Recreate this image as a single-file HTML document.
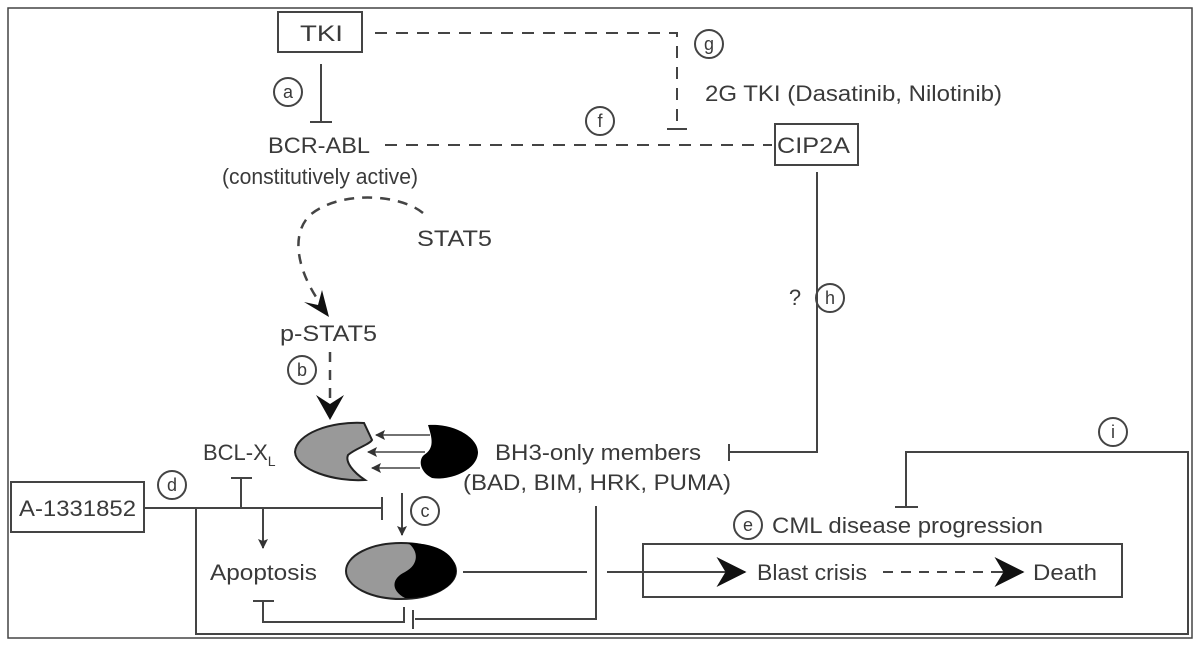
<!DOCTYPE html>
<html><head><meta charset="utf-8"><style>
html,body{margin:0;padding:0;background:#fff;}
svg{display:block;}
text{font-family:"Liberation Sans",sans-serif;fill:#3a3a3a;}
</style></head><body>
<svg width="1200" height="646" viewBox="0 0 1200 646" xmlns="http://www.w3.org/2000/svg">
<defs>
<marker id="ah" viewBox="0 0 10 10" refX="9" refY="5" markerWidth="10" markerHeight="10" markerUnits="userSpaceOnUse" orient="auto"><path d="M0,0 L10,5 L0,10 L2,5z" fill="#333"/></marker>
<marker id="big" viewBox="0 0 20 20" refX="19" refY="10" markerWidth="30" markerHeight="30" markerUnits="userSpaceOnUse" orient="auto"><path d="M0,0 L20,10 L0,20 L6,10z" fill="#111"/></marker>
</defs>
<rect x="8" y="8" width="1184" height="630" fill="#fff" stroke="#444" stroke-width="1.5"/>
<g stroke="#444" stroke-width="2" fill="none">
<rect x="278" y="12" width="84" height="40"/>
<line x1="321" y1="64" x2="321" y2="122"/><line x1="310" y1="122" x2="332" y2="122"/>
<path d="M375,33 H677 V129" stroke-dasharray="12,9"/><line x1="667" y1="129" x2="687" y2="129"/>
<line x1="385" y1="145" x2="772" y2="145" stroke-dasharray="12,9"/>
<rect x="775" y="124" width="83" height="41"/>
<path d="M817,172 V452 H729"/><line x1="729" y1="444" x2="729" y2="461"/>
<path d="M423,213 C400,194 340,190 310,215 C290,235 298,270 318,300" stroke-dasharray="10,8" stroke-width="2.5"/>
<line x1="330" y1="352" x2="330" y2="400" stroke-dasharray="10,8" stroke-width="2.5"/>
<line x1="144" y1="508" x2="382" y2="508"/><line x1="382" y1="497" x2="382" y2="520"/>
<line x1="241" y1="508" x2="241" y2="478"/><line x1="231" y1="478" x2="252" y2="478"/>
<line x1="263" y1="508" x2="263" y2="548" marker-end="url(#ah)"/>
<line x1="402" y1="493" x2="402" y2="535" marker-end="url(#ah)"/>
<path d="M196,508 V634 H1188 V452 H906 V507"/><line x1="895" y1="507" x2="918" y2="507"/>
<path d="M596,506 V619 H415"/><line x1="413" y1="610" x2="413" y2="629"/>
<path d="M404,607 V622 H263 V601"/><line x1="253" y1="601" x2="274" y2="601"/>
<line x1="463" y1="572" x2="587" y2="572"/>
<line x1="607" y1="572" x2="745" y2="572" marker-end="url(#big)"/>
<rect x="643" y="544" width="479" height="53"/>
<line x1="883" y1="572" x2="1005" y2="572" stroke-dasharray="10,8"/>
<line x1="995" y1="572" x2="1023" y2="572" marker-end="url(#big)"/>
<rect x="11" y="482" width="133" height="50"/>
<line x1="430" y1="435" x2="376" y2="435" stroke-width="1.5" marker-end="url(#ah)"/>
<line x1="425" y1="452" x2="368" y2="452" stroke-width="1.5" marker-end="url(#ah)"/>
<line x1="420" y1="468" x2="372" y2="468" stroke-width="1.5" marker-end="url(#ah)"/>
<circle cx="288" cy="92" r="14"/><circle cx="709" cy="44" r="14"/><circle cx="600" cy="121" r="14"/>
<circle cx="830" cy="298" r="14"/><circle cx="302" cy="370" r="14"/><circle cx="172" cy="485" r="14"/>
<circle cx="425" cy="511" r="14"/><circle cx="748" cy="525" r="14"/><circle cx="1113" cy="432" r="14"/>
</g>
<path d="M304,302 L329,317 L322,290 L318,305z" fill="#111"/>
<path d="M316,395 L330,420 L344,395 L330,404z" fill="#111"/>
<path d="M364,423 C330,421 296,434 295,452 C296,470 335,482 365,480 C353,472 345,462 348,455 C356,448 369,445 372,440 Z" fill="#999" stroke="#222" stroke-width="2"/>
<path d="M428,425 C455,423 478,438 478,452 C478,470 450,481 432,478 C420,472 418,460 424,455 C435,448 432,438 428,425 Z" fill="#000"/>
<ellipse cx="401" cy="571" rx="55" ry="28" fill="#999" stroke="#222" stroke-width="2"/>
<path d="M408,543 C440,543 456,556 456,571 C456,588 430,599 405,598 C390,590 392,578 405,572 C420,564 418,550 408,543 Z" fill="#000"/>
<g font-size="22">
<text x="300" y="41" textLength="43" lengthAdjust="spacingAndGlyphs">TKI</text>
<text x="268" y="153" textLength="102" lengthAdjust="spacingAndGlyphs">BCR-ABL</text>
<text x="222" y="184" textLength="196" lengthAdjust="spacingAndGlyphs">(constitutively active)</text>
<text x="777" y="153" textLength="73" lengthAdjust="spacingAndGlyphs">CIP2A</text>
<text x="705" y="101" textLength="297" lengthAdjust="spacingAndGlyphs">2G TKI (Dasatinib, Nilotinib)</text>
<text x="417" y="246" textLength="75" lengthAdjust="spacingAndGlyphs">STAT5</text>
<text x="280" y="341" textLength="97" lengthAdjust="spacingAndGlyphs">p-STAT5</text>
<text x="795" y="305" text-anchor="middle">?</text>
<text x="203" y="460">BCL-X<tspan font-size="14" dy="6">L</tspan></text>
<text x="495" y="460" textLength="206" lengthAdjust="spacingAndGlyphs">BH3-only members</text>
<text x="463" y="490" textLength="268" lengthAdjust="spacingAndGlyphs">(BAD, BIM, HRK, PUMA)</text>
<text x="19" y="516" textLength="117" lengthAdjust="spacingAndGlyphs">A-1331852</text>
<text x="210" y="580" textLength="107" lengthAdjust="spacingAndGlyphs">Apoptosis</text>
<text x="772" y="533" textLength="271" lengthAdjust="spacingAndGlyphs">CML disease progression</text>
<text x="757" y="580" textLength="110" lengthAdjust="spacingAndGlyphs">Blast crisis</text>
<text x="1033" y="580" textLength="64" lengthAdjust="spacingAndGlyphs">Death</text>
</g>
<g font-size="18" text-anchor="middle">
<text x="288" y="98">a</text><text x="709" y="50">g</text><text x="600" y="127">f</text>
<text x="830" y="304">h</text><text x="302" y="376">b</text><text x="172" y="491">d</text>
<text x="425" y="517">c</text><text x="748" y="531">e</text><text x="1113" y="438">i</text>
</g>
</svg>
</body></html>
